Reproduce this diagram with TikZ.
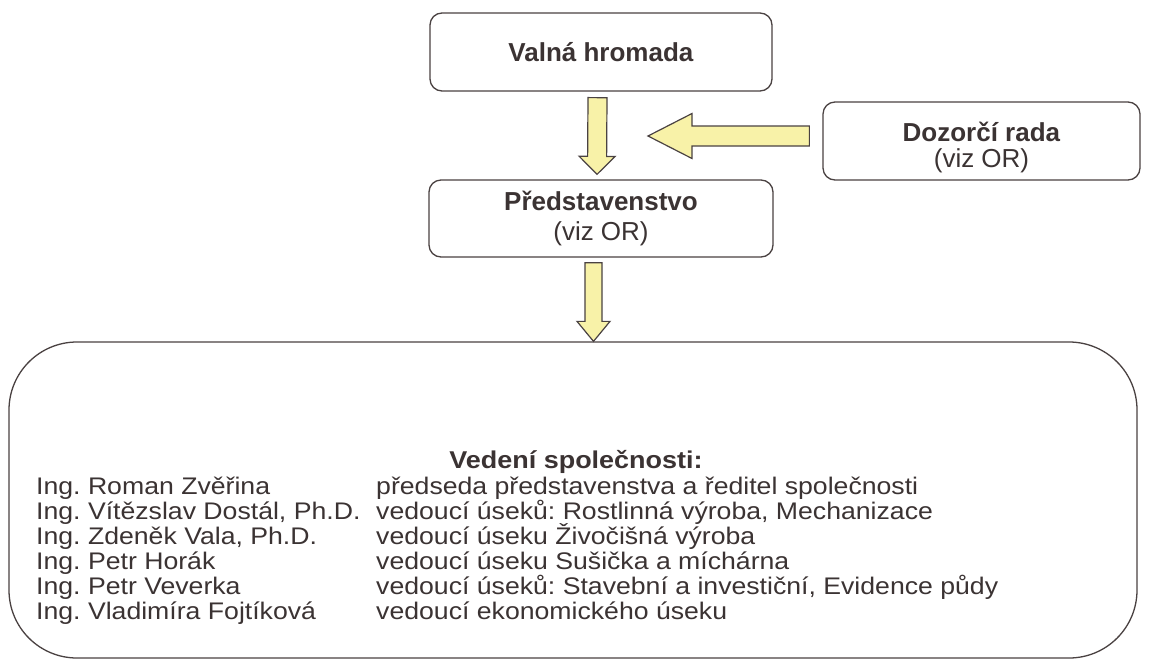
\documentclass[tikz,border=0pt]{standalone}
\usepackage{fontspec}
\setmainfont{Liberation Sans}
\newfontfamily\boxfont[FakeStretch=1.11]{Liberation Sans}
\usetikzlibrary{calc}
\frenchspacing
\definecolor{inkc}{HTML}{3B3333}
\definecolor{linec}{HTML}{4A4242}
\definecolor{arrowfill}{HTML}{F8F2A8}
% #1 start, #2 tip, #3 half shaft width, #4 half head width, #5 head length
\newcommand\fatarrow[5]{%
  \coordinate (fa-hb) at ($(#2)!#5!(#1)$);
  \filldraw[arrowstyle] ($(#1)!#3!90:(#2)$) -- ($(fa-hb)!#3!90:(#2)$) -- ($(fa-hb)!#4!90:(#2)$) -- (#2)
    -- ($(fa-hb)!#4!-90:(#2)$) -- ($(fa-hb)!#3!-90:(#2)$) -- ($(#1)!#3!-90:(#2)$) -- cycle;}
\begin{document}
\begin{tikzpicture}[x=1pt,y=-1pt,
  font=\fontsize{26}{30}\selectfont, text=inkc,
  box/.style={draw=linec, line width=1.3pt, rounded corners=12pt, fill=white, align=center, inner sep=0pt},
  arrowstyle/.style={draw=linec, line width=1.2pt, fill=arrowfill, line join=miter},
  row/.style={anchor=base west, inner sep=0pt, font=\boxfont\fontsize{24}{25}\selectfont}]
\useasboundingbox (0,0) rectangle (1169,659);
\fill[white] (0,0) rectangle (1169,659);

\node[box, minimum width=342pt, minimum height=78pt] (vh) at (601,52) {\textbf{Valná hromada}};
\node[box, minimum width=344pt, minimum height=77pt] (pr) at (601,218.5) {\textbf{Představenstvo}\\(viz OR)};
\node[box, minimum width=317pt, minimum height=78pt] (dz) at (981.5,141) {};
\node[align=center, inner sep=0pt] (dzt) at ($(dz.center)+(0,6)$) {\textbf{Dozorčí rada}\\[-4pt](viz OR)};
\node[box, rounded corners=68pt, minimum width=1128pt, minimum height=316pt] (ved) at (573,500) {};

\node[anchor=base, inner sep=0pt, font=\boxfont\fontsize{24.3}{25}\selectfont] (hd) at (576,468) {\textbf{Vedení společnosti:}};
\node[row] (n1) at (36,494) {Ing. Roman Zvěřina};
\node[row] (d1) at (376,494) {předseda představenstva a ředitel společnosti};
\node[row] (n2) at (36,519) {Ing. Vítězslav Dostál, Ph.D.};
\node[row] (d2) at (376,519) {vedoucí úseků: Rostlinná výroba, Mechanizace};
\node[row] (n3) at (36,544) {Ing. Zdeněk Vala, Ph.D.};
\node[row] (d3) at (376,544) {vedoucí úseku Živočišná výroba};
\node[row] (n4) at (36,569) {Ing. Petr Horák};
\node[row] (d4) at (376,569) {vedoucí úseku Sušička a míchárna};
\node[row] (n5) at (36,594) {Ing. Petr Veverka};
\node[row] (d5) at (376,594) {vedoucí úseků: Stavební a investiční, Evidence půdy};
\node[row] (n6) at (36,619) {Ing. Vladimíra Fojtíková};
\node[row] (d6) at (376,619) {vedoucí ekonomického úseku};

\coordinate (a1s) at ($(vh.south)+(-3.5,6)$);
\coordinate (a1e) at ($(pr.north)+(-4,-5)$);
\fatarrow{a1s}{a1e}{9.5pt}{18pt}{18pt}
\coordinate (a2s) at ($(dz.west)+(-13,-5)$);
\coordinate (a2e) at (648,136);
\fatarrow{a2s}{a2e}{10pt}{22.5pt}{44pt}
\coordinate (a3s) at ($(pr.south)+(-7.5,5)$);
\coordinate (a3e) at (a3s |- ved.north);
\fatarrow{a3s}{a3e}{8.5pt}{16.5pt}{20pt}
\end{tikzpicture}
\end{document}
